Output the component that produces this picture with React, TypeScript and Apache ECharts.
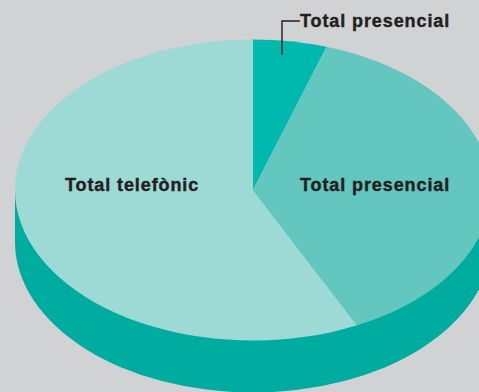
import React, { useEffect, useRef } from "react";
import * as echarts from "echarts";

// Share of attention by channel, drawn clockwise from twelve o'clock.
const sliceNames = ["Total presencial", "Total presencial", "Total telefònic"];
const sliceValues = [5, 37.8, 57.2];
const sliceColors = ["#00b9ae", "#63c6bf", "#9dd9d5"];
const wallColor = "#00aca0";
const pageColor = "#d1d2d4";
const inkColor = "#231f20";

const CX = 253;
const CY = 190;
const RX = 238;
const RY = 150.5;
const DEPTH = 52;

const point = (turn: number, dy = 0): [number, number] => [
  CX + RX * Math.sin(turn * 2 * Math.PI),
  CY + dy - RY * Math.cos(turn * 2 * Math.PI),
];

export default function App() {
  const ref = useRef<HTMLDivElement>(null);

  useEffect(() => {
    document.body.style.margin = "0";
    document.body.style.background = pageColor;
    const chart = echarts.init(ref.current!, null, { renderer: "svg" });
    const total = sliceValues.reduce((a, b) => a + b, 0);
    const starts = sliceValues.map((_, i) =>
      sliceValues.slice(0, i).reduce((a, b) => a + b, 0) / total
    );

    const labelFont = {
      fontFamily: "Liberation Sans",
      fontWeight: "bold" as const,
      fontSize: 18,
      fill: inkColor,
      stroke: inkColor,
      lineWidth: 0.4,
      textAlign: "left" as const,
      textVerticalAlign: "middle" as const,
    };

    chart.setOption({
      animation: false,
      backgroundColor: pageColor,
      series: [
        {
          // Front wall of the disc
          type: "custom",
          coordinateSystem: "none",
          silent: true,
          z: 1,
          data: [[total]],
          renderItem: () => {
            const [lx, ly] = point(0.75);
            const [rx, ry] = point(0.25);
            return {
              type: "path",
              shape: {
                pathData: `M${lx} ${ly}L${lx} ${ly + DEPTH}A${RX} ${RY} 0 0 0 ${rx} ${ry + DEPTH}L${rx} ${ry}Z`,
              },
              style: { fill: wallColor },
            };
          },
        },
        {
          // Top face, one elliptical sector per value
          type: "custom",
          coordinateSystem: "none",
          silent: true,
          z: 2,
          data: sliceValues.map((v, i) => [i, v]),
          renderItem: (_: unknown, api: any) => {
            const i = api.value(0);
            const share = api.value(1) / total;
            const [ax, ay] = point(starts[i]);
            const [bx, by] = point(starts[i] + share);
            return {
              type: "path",
              shape: {
                pathData: `M${CX} ${CY}L${ax} ${ay}A${RX} ${RY} 0 ${share > 0.5 ? 1 : 0} 1 ${bx} ${by}Z`,
              },
              style: { fill: sliceColors[i] },
            };
          },
        },
      ],
      graphic: [
        {
          type: "polyline",
          z: 10,
          shape: { points: [[282, 55], [282, 21], [300, 21]] },
          style: { stroke: inkColor, lineWidth: 1.4, fill: "none" },
        },
        { type: "text", z: 10, x: 300, y: 21, style: { ...labelFont, text: sliceNames[0] } },
        { type: "text", z: 10, x: 300, y: 185, style: { ...labelFont, text: sliceNames[1] } },
        { type: "text", z: 10, x: 65, y: 185, style: { ...labelFont, text: sliceNames[2] } },
      ],
    });
    return () => chart.dispose();
  }, []);

  // The labels are tracked slightly wider than the font's default spacing.
  return <div ref={ref} style={{ width: 479, height: 392, letterSpacing: "0.9px" }} />;
}
